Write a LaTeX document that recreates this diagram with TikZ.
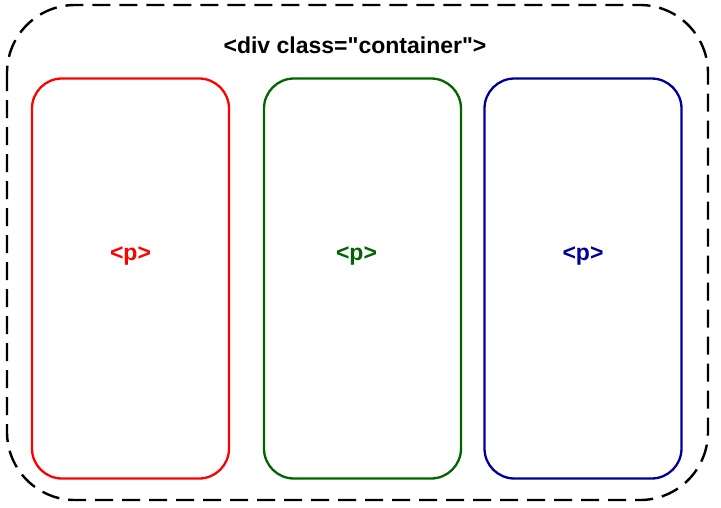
\documentclass[tikz,border=0pt]{standalone}
\usepackage{fontspec}
\setmainfont{Liberation Sans}
\begin{document}
\begin{tikzpicture}[x=1pt,y=-1pt,
  container/.style={draw=black, line width=2.4pt, dash pattern=on 18pt off 9pt,
    rounded corners=68pt, inner sep=0pt},
  pbox/.style={draw=#1, line width=2.3pt, rounded corners=30pt, inner sep=0pt,
    minimum width=197pt, minimum height=400pt},
  tag/.style={text=#1, font=\bfseries\fontsize{23}{27}\selectfont, inner sep=0pt, anchor=base},
]
\definecolor{pred}{HTML}{FF0000}
\definecolor{pgreen}{HTML}{006400}
\definecolor{pblue}{HTML}{000099}
\useasboundingbox (0,0) rectangle (721,507);
% outer dashed container
\draw[container] (7,5) rectangle (708,500);
\node[tag=black] (divlabel) at (355,53) {<div class=\textquotedbl container\textquotedbl>};
% three paragraph boxes
\node[pbox=pred]   (p1) at (130.5,278.5) {};
\node[pbox=pgreen] (p2) at (362.5,278.5) {};
\node[pbox=pblue]  (p3) at (583,278.5) {};
\node[tag=pred]   (t1) at (130.5,260) {<p>};
\node[tag=pgreen] (t2) at (356.5,260) {<p>};
\node[tag=pblue]  (t3) at (583,260) {<p>};
\end{tikzpicture}
\end{document}
